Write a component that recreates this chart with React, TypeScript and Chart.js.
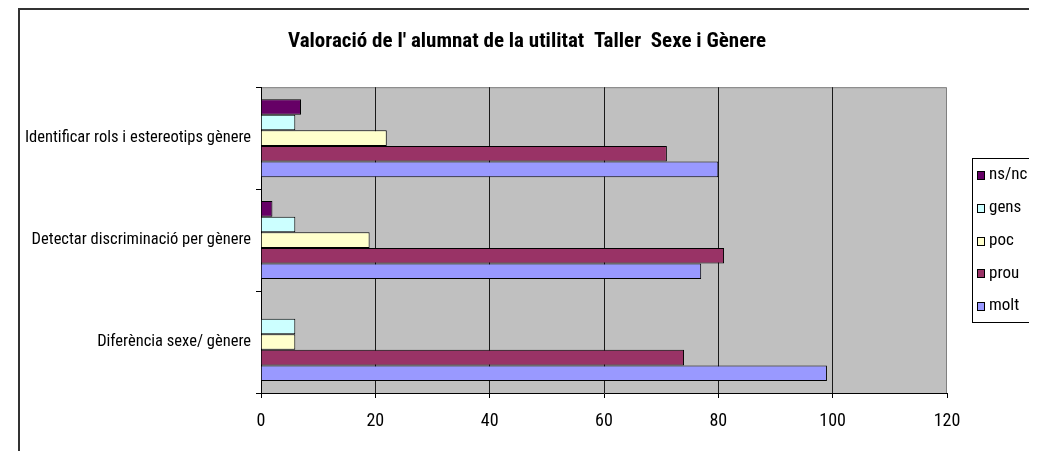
import React, { useEffect, useRef } from "react";
import { Chart, registerables } from "chart.js";

Chart.register(...registerables);

const categories = [
  "Identificar rols i estereotips gènere",
  "Detectar discriminació per gènere",
  "Diferència sexe/ gènere",
];
const seriesNames = ["ns/nc", "gens", "poc", "prou", "molt"];
const nsncValues = [7, 2, 0];
const gensValues = [6, 6, 6];
const pocValues = [22, 19, 6];
const prouValues = [71, 81, 74];
const moltValues = [80, 77, 99];
const seriesColors = ["#660066", "#CCFFFF", "#FFFFCC", "#993366", "#9999FF"];
const xTicks = [0, 20, 40, 60, 80, 100, 120];
const titleText = "Valoració de l' alumnat de la utilitat  Taller  Sexe i Gènere";

const FONT = '"Roboto Condensed", "Liberation Sans", Arial, sans-serif';

const bgPlugin = {
  id: "plotBg",
  beforeDraw(chart: any) {
    const { ctx, chartArea } = chart;
    ctx.save();
    ctx.fillStyle = "#C0C0C0";
    ctx.fillRect(chartArea.left, chartArea.top, chartArea.right - chartArea.left, chartArea.bottom - chartArea.top);
    ctx.strokeStyle = "#808080";
    ctx.lineWidth = 1;
    ctx.beginPath();
    ctx.moveTo(chartArea.left, chartArea.top + 0.5);
    ctx.lineTo(chartArea.right - 0.5, chartArea.top + 0.5);
    ctx.lineTo(chartArea.right - 0.5, chartArea.bottom);
    ctx.stroke();
    ctx.restore();
  },
};

const legendPlugin = {
  id: "boxLegend",
  afterDraw(chart: any) {
    const { ctx } = chart;
    const x = 952.5, y = 148.5, w = 57, h = 164;
    ctx.save();
    ctx.fillStyle = "#fff";
    ctx.fillRect(x, y, w, h);
    ctx.strokeStyle = "#000";
    ctx.lineWidth = 1;
    ctx.strokeRect(x, y, w, h);
    ctx.font = "17px " + FONT;
    ctx.textBaseline = "middle";
    chart.data.datasets.forEach((ds: any, i: number) => {
      const cy = 165 + i * 32.8;
      const sy = Math.round(cy) - 3.5;
      ctx.fillStyle = ds.backgroundColor;
      ctx.fillRect(957.5, sy, 7, 8);
      ctx.strokeStyle = "#000";
      ctx.strokeRect(957.5, sy, 7, 8);
      ctx.fillStyle = "#000";
      ctx.fillText(ds.label, 969, cy);
    });
    ctx.restore();
  },
};

export default function App() {
  const ref = useRef<HTMLCanvasElement | null>(null);
  useEffect(() => {
    if (!ref.current) return;
    const values = [nsncValues, gensValues, pocValues, prouValues, moltValues];
    const chart = new Chart(ref.current, {
      type: "bar",
      data: {
        labels: categories,
        datasets: seriesNames.map((name, i) => ({
          label: name,
          data: values[i],
          backgroundColor: seriesColors[i],
          borderColor: "#000",
          borderWidth: 1,
          categoryPercentage: 0.765,
          barPercentage: 1,
          xAxisID: "x",
          yAxisID: "y",
        })),
      },
      options: {
        indexAxis: "y",
        animation: false,
        responsive: false,
        maintainAspectRatio: false,
        layout: { padding: { left: 3, right: 0, top: 0, bottom: 0 } },
        plugins: {
          legend: { display: false },
          tooltip: { enabled: false },
          title: {
            display: true,
            text: titleText,
            color: "#000",
            font: { family: FONT, size: 21, weight: "bold" },
            padding: { top: 19, bottom: 33 },
          },
        },
        scales: {
          x: {
            min: 0,
            max: 120,
            afterBuildTicks(scale: any) {
              scale.ticks = xTicks.map((v) => ({ value: v }));
            },
            afterFit(scale: any) {
              scale.height = 77;
            },
            grid: {
              color: (c: any) => (c.tick && c.tick.value === 120 ? "rgba(0,0,0,0)" : "#1a1a1a"),
              tickColor: "#000",
              tickLength: 5,
              lineWidth: 1,
            },
            border: { color: "#000", width: 1 },
            ticks: { color: "#000", font: { family: FONT, size: 18 }, padding: 13, maxRotation: 0 },
          },
          y: {
            afterFit(scale: any) {
              scale.width = 238;
            },
            grid: { offset: true, drawOnChartArea: false, tickColor: "#000", tickLength: 5 },
            border: { color: "#000", width: 1 },
            ticks: { color: "#000", font: { family: FONT, size: 16.5 }, padding: 5 },
          },
          yRightSpace: {
            type: "category",
            labels: categories,
            position: "right",
            display: true,
            afterFit(scale: any) {
              scale.width = 84;
            },
            grid: { display: false, drawTicks: false },
            border: { display: false },
            ticks: { display: false },
          },
        },
      },
      plugins: [bgPlugin, legendPlugin],
    });
    return () => chart.destroy();
  }, []);

  return (
    <div
      style={{
        marginLeft: 10,
        width: 1015,
        height: 470,
        boxSizing: "border-box",
        borderTop: "2px solid #333",
        borderLeft: "2px solid #333",
        borderRight: "2px solid #333",
        background: "#fff",
      }}
    >
      <canvas ref={ref} width={1011} height={460} style={{ display: "block", width: 1011, height: 460 }} />
    </div>
  );
}
